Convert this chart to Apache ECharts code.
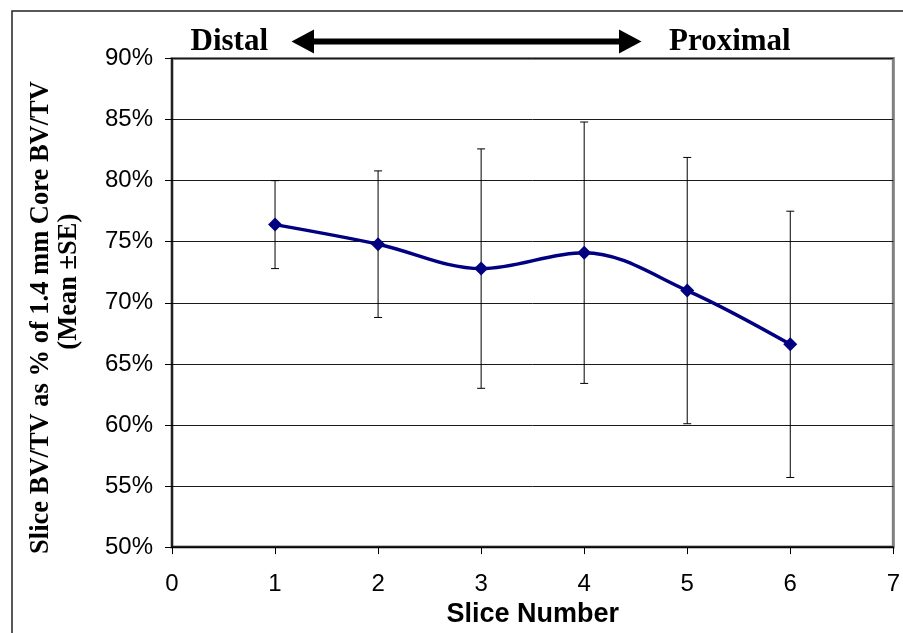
<!DOCTYPE html>
<html>
<head>
<meta charset="utf-8">
<script src="https://cdn.jsdelivr.net/npm/echarts@6/dist/echarts.min.js"></script>
<style>
  html, body { margin: 0; padding: 0; background: #fff; }
  #chart { width: 903px; height: 633px; }
</style>
</head>
<body>
<div id="chart"></div>
<script>
// Slice positions along the core (distal -> proximal)
const slices = [1, 2, 3, 4, 5, 6];
// Mean slice BV/TV as % of whole-core BV/TV
const meanPct = [76.4, 74.8, 72.8, 74.1, 71.0, 66.6];
// Standard error of the mean, in percentage points
const sePct = [3.6, 6.0, 9.8, 10.7, 10.9, 10.9];
// Axis ranges
const xTicks = [0, 1, 2, 3, 4, 5, 6, 7];
const yMin = 50, yMax = 90, yStep = 5;

const serif = '"Liberation Serif", "Times New Roman", serif';
const sans = '"Liberation Sans", Arial, sans-serif';

const linePoints = slices.map((s, i) => [s, meanPct[i]]);
const errorRows = slices.map((s, i) => [s, meanPct[i] - sePct[i], meanPct[i] + sePct[i]]);

const chart = echarts.init(document.getElementById('chart'), null, { renderer: 'canvas' });

chart.setOption({
  backgroundColor: '#ffffff',
  animation: false,
  grid: {
    left: 172, top: 58.5, right: 3.5, bottom: 81.5,
    show: true, borderColor: '#808080', borderWidth: 3, backgroundColor: 'transparent'
  },
  xAxis: {
    type: 'value',
    min: xTicks[0], max: xTicks[xTicks.length - 1], interval: 1,
    name: 'Slice Number', nameLocation: 'middle', nameGap: 45,
    nameTextStyle: { fontFamily: sans, fontWeight: 'bold', fontSize: 27, color: '#000' },
    axisLine: { show: true, onZero: false, lineStyle: { color: '#000', width: 1.5 } },
    axisTick: { show: true, inside: false, length: 7, lineStyle: { color: '#000', width: 1 } },
    axisLabel: { margin: 25, fontFamily: sans, fontSize: 24, color: '#000', showMaxLabel: true, showMinLabel: true },
    splitLine: { show: false }
  },
  yAxis: {
    type: 'value',
    min: yMin, max: yMax, interval: yStep,
    axisLine: { show: true, onZero: false, lineStyle: { color: '#000', width: 1.5 } },
    axisTick: { show: true, inside: false, length: 7, lineStyle: { color: '#000', width: 1 } },
    axisLabel: { margin: 19, fontFamily: sans, fontSize: 24, color: '#000', formatter: '{value}%' },
    splitLine: { show: true, lineStyle: { color: '#1a1a1a', width: 1 } }
  },
  series: [
    {
      // ±SE whiskers
      type: 'custom',
      data: errorRows,
      z: 2,
      renderItem: function (params, api) {
        const x = api.value(0);
        const lo = api.coord([x, api.value(1)]);
        const hi = api.coord([x, api.value(2)]);
        const cap = 4;
        const st = { stroke: '#000', lineWidth: 1 };
        return {
          type: 'group',
          children: [
            { type: 'line', shape: { x1: lo[0], y1: lo[1], x2: hi[0], y2: hi[1] }, style: st },
            { type: 'line', shape: { x1: lo[0] - cap, y1: lo[1], x2: lo[0] + cap, y2: lo[1] }, style: st },
            { type: 'line', shape: { x1: hi[0] - cap, y1: hi[1], x2: hi[0] + cap, y2: hi[1] }, style: st }
          ]
        };
      }
    },
    {
      type: 'line',
      data: linePoints,
      smooth: 0.35,
      z: 3,
      symbol: 'diamond',
      symbolSize: 14,
      lineStyle: { color: '#000080', width: 3.5 },
      itemStyle: { color: '#000080', borderWidth: 0 }
    }
  ],
  graphic: [
    // Outer frame of the chart
    { type: 'rect', shape: { x: 12, y: 11, width: 900, height: 630 },
      style: { fill: 'none', stroke: '#222', lineWidth: 1.5 }, z: 0 },
    // Orientation labels and double-headed arrow
    { type: 'text', x: 190.5, y: 41.5,
      style: { text: 'Distal', font: 'bold 31px ' + serif, fill: '#000', align: 'left', verticalAlign: 'middle' } },
    { type: 'text', x: 669, y: 41.5,
      style: { text: 'Proximal', font: 'bold 31px ' + serif, fill: '#000', align: 'left', verticalAlign: 'middle' } },
    { type: 'polygon', shape: { points: [
        [291.5, 41.5], [314, 29.5], [314, 38.5], [619, 38.5], [619, 29.5], [641.5, 41.5],
        [619, 53.5], [619, 44.5], [314, 44.5], [314, 53.5] ] },
      style: { fill: '#000' } },
    // Y-axis title, two rotated lines
    { type: 'text', x: 41, y: 317.5, rotation: Math.PI / 2,
      style: { text: 'Slice BV/TV as % of 1.4 mm Core BV/TV', font: 'bold 26.5px ' + serif, fill: '#000', align: 'center', verticalAlign: 'middle' } },
    { type: 'text', x: 69, y: 281.7, rotation: Math.PI / 2,
      style: { text: '(Mean ±SE)', font: 'bold 26.5px ' + serif, fill: '#000', align: 'center', verticalAlign: 'middle' } }
  ]
});
</script>
</body>
</html>
